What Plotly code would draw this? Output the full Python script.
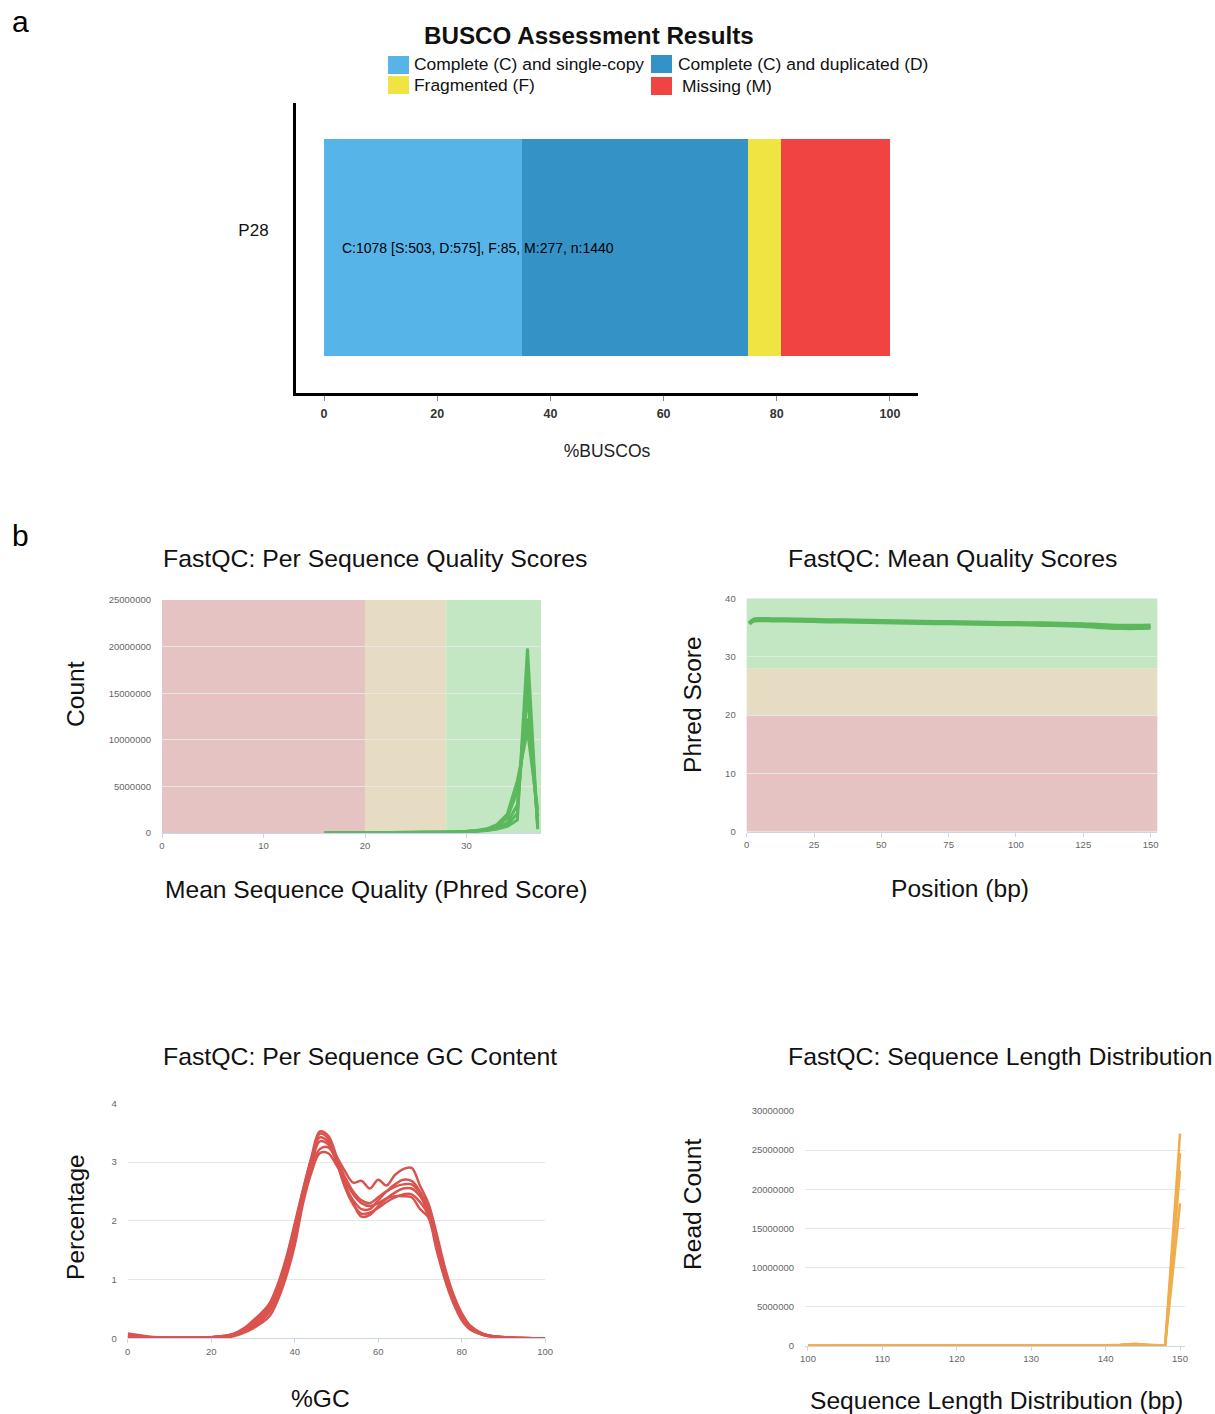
import plotly.graph_objects as go

W, H = 1215, 1414
def fx(p):
    return p / W
def fy(p):
    return 1 - p / H

FONT = "Liberation Sans, Arial, Helvetica, sans-serif"

# ---------------- Panel a: BUSCO ----------------
busco_title = "BUSCO Assessment Results"
busco_sample = "P28"
busco_labels = ["Complete (C) and single-copy", "Complete (C) and duplicated (D)",
                "Fragmented (F)", "Missing (M)"]
busco_counts = [503, 575, 85, 277]
busco_n = 1440
busco_colors = ["#56B4E9", "#3492C7", "#F0E442", "#F04442"]
busco_xticks = [0, 20, 40, 60, 80, 100]

# ---------------- Panel b: FastQC ----------------
qual_band_colors = ["#e6c3c3", "#e6dcc3", "#c3e6c3"]
qual_thresholds = [20, 28]

# Per sequence quality scores (counts per mean Phred score)
psq_x = [16, 18, 20, 22, 24, 26, 28, 29, 30, 31, 32, 33, 34, 35, 36, 37]
psq_s1 = [2000, 5000, 12000, 20000, 30000, 45000, 70000, 90000, 120000, 170000, 260000, 420000, 700000, 1400000, 19800000, 400000]
psq_s2 = [4000, 9000, 20000, 32000, 48000, 70000, 110000, 140000, 190000, 280000, 450000, 900000, 2000000, 5600000, 11000000, 2500000]
psq_s3 = [3000, 7000, 16000, 26000, 40000, 58000, 90000, 115000, 160000, 230000, 380000, 700000, 1600000, 4500000, 12300000, 1800000]
psq_s4 = [2500, 6000, 14000, 23000, 35000, 52000, 80000, 100000, 140000, 200000, 320000, 560000, 1100000, 3000000, 15000000, 1000000]
psq_s5 = [2000, 5000, 13000, 21000, 32000, 48000, 75000, 95000, 130000, 185000, 290000, 480000, 850000, 2100000, 17200000, 700000]
psq_yticks = [0, 5000000, 10000000, 15000000, 20000000, 25000000]
psq_xticks = [0, 10, 20, 30]

# Mean quality scores per position
mq_x = [1, 2, 3, 5, 7, 9, 12, 15, 20, 25, 30, 40, 50, 60, 70, 80, 90, 100, 110, 120, 125, 130, 135, 140, 145, 150]
mq_s1 = [35.8, 36.2, 36.45, 36.5, 36.5, 36.45, 36.45, 36.45, 36.4, 36.35, 36.3, 36.25, 36.15, 36.05, 36.0, 35.95, 35.85, 35.8, 35.75, 35.65, 35.6, 35.5, 35.4, 35.35, 35.35, 35.4]
mq_s2 = [35.6, 36.0, 36.15, 36.2, 36.2, 36.15, 36.15, 36.15, 36.1, 36.05, 36.0, 35.95, 35.85, 35.75, 35.7, 35.65, 35.55, 35.5, 35.4, 35.3, 35.2, 35.05, 34.9, 34.85, 34.85, 34.9]
mq_s3 = [35.7, 36.1, 36.3, 36.35, 36.35, 36.3, 36.3, 36.3, 36.25, 36.2, 36.15, 36.1, 36.0, 35.9, 35.85, 35.8, 35.7, 35.65, 35.55, 35.45, 35.4, 35.3, 35.15, 35.1, 35.1, 35.15]
mq_xticks = [0, 25, 50, 75, 100, 125, 150]
mq_yticks = [0, 10, 20, 30, 40]

# Per sequence GC content (%)
gc_x = [0, 2, 5, 10, 15, 20, 25, 28, 30, 32, 34, 36, 38, 40, 42, 44, 46, 48, 50, 52, 54, 56, 58, 60,
        62, 64, 66, 68, 70, 72, 74, 76, 78, 80, 82, 85, 88, 92, 100]
gc_s1 = [0.08, 0.06, 0.03, 0.01, 0.01, 0.02, 0.06, 0.15, 0.28, 0.42, 0.58, 0.90, 1.35, 1.92, 2.52, 3.08, 3.52, 3.45, 3.10, 2.65, 2.30, 2.07, 2.10, 2.25,
         2.38, 2.48, 2.55, 2.55, 2.42, 2.12, 1.60, 1.08, 0.65, 0.36, 0.18, 0.07, 0.03, 0.01, 0.00]
gc_s2 = [0.02, 0.02, 0.01, 0.01, 0.01, 0.02, 0.07, 0.18, 0.30, 0.43, 0.60, 0.93, 1.38, 1.95, 2.53, 3.05, 3.42, 3.35, 3.10, 2.85, 2.65, 2.68, 2.55, 2.70,
         2.60, 2.78, 2.88, 2.90, 2.60, 2.30, 1.78, 1.20, 0.75, 0.43, 0.22, 0.08, 0.03, 0.01, 0.00]
gc_s3 = [0.02, 0.01, 0.01, 0.00, 0.00, 0.01, 0.03, 0.10, 0.17, 0.26, 0.38, 0.66, 1.06, 1.58, 2.30, 2.82, 3.15, 3.15, 2.95, 2.70, 2.45, 2.30, 2.25, 2.30,
         2.38, 2.42, 2.42, 2.40, 2.20, 2.06, 1.50, 1.00, 0.60, 0.31, 0.15, 0.06, 0.02, 0.01, 0.00]
gc_s4 = [0.06, 0.05, 0.02, 0.01, 0.01, 0.02, 0.05, 0.13, 0.23, 0.35, 0.50, 0.80, 1.22, 1.78, 2.42, 2.95, 3.35, 3.30, 3.00, 2.60, 2.35, 2.20, 2.20, 2.35,
         2.50, 2.62, 2.70, 2.68, 2.50, 2.20, 1.65, 1.10, 0.68, 0.38, 0.19, 0.07, 0.03, 0.01, 0.00]
gc_s5 = [0.02, 0.02, 0.01, 0.01, 0.01, 0.02, 0.05, 0.12, 0.20, 0.30, 0.45, 0.74, 1.15, 1.70, 2.38, 2.90, 3.22, 3.25, 3.05, 2.75, 2.50, 2.35, 2.30, 2.40,
         2.50, 2.58, 2.62, 2.62, 2.48, 2.25, 1.70, 1.15, 0.72, 0.40, 0.20, 0.08, 0.03, 0.01, 0.00]
gc_s6 = [0.03, 0.02, 0.01, 0.01, 0.01, 0.02, 0.06, 0.14, 0.26, 0.40, 0.55, 0.86, 1.30, 1.88, 2.50, 3.05, 3.48, 3.40, 3.02, 2.58, 2.28, 2.12, 2.14, 2.22,
         2.32, 2.40, 2.45, 2.45, 2.32, 2.10, 1.55, 1.02, 0.62, 0.34, 0.17, 0.06, 0.02, 0.01, 0.00]
gc_xticks = [0, 20, 40, 60, 80, 100]
gc_yticks = [0, 1, 2, 3, 4]

# Sequence length distribution (read counts)
len_x = [100, 110, 120, 130, 138, 140, 142, 144, 146, 148, 150]
len_s1 = [2000, 3000, 5000, 8000, 30000, 60000, 120000, 250000, 60000, 20000, 27100000]
len_s2 = [1500, 2500, 4000, 7000, 25000, 50000, 100000, 200000, 50000, 15000, 24600000]
len_s3 = [1000, 2000, 3500, 6000, 20000, 40000, 80000, 160000, 40000, 12000, 22400000]
len_s4 = [1000, 2000, 3000, 5000, 18000, 35000, 70000, 140000, 35000, 10000, 18200000]
len_xticks = [100, 110, 120, 130, 140, 150]
len_yticks = [0, 5000000, 10000000, 15000000, 20000000, 25000000, 30000000]

GREEN = "#5cb85c"
RED = "#d9534f"
ORANGE = "#f0ad4e"

fig = go.Figure()

# ---- BUSCO stacked bar ----
for lab, cnt, col in zip(busco_labels, busco_counts, busco_colors):
    fig.add_trace(go.Bar(
        x=[100.0 * cnt / busco_n], y=[0], orientation="h", width=1,
        marker=dict(color=col, line=dict(width=0)), name=lab,
        showlegend=False, xaxis="x", yaxis="y", hoverinfo="name+x"))

# ---- FastQC traces ----
for s in [psq_s2, psq_s3, psq_s4, psq_s5, psq_s1]:
    fig.add_trace(go.Scatter(x=psq_x, y=s, mode="lines", line=dict(color=GREEN, width=3),
                             showlegend=False, xaxis="x2", yaxis="y2"))
for s in [mq_s1, mq_s2, mq_s3]:
    fig.add_trace(go.Scatter(x=mq_x, y=s, mode="lines", line=dict(color=GREEN, width=3.5, shape="spline"),
                             showlegend=False, xaxis="x3", yaxis="y3"))
for s in [gc_s1, gc_s2, gc_s3, gc_s4, gc_s5, gc_s6]:
    fig.add_trace(go.Scatter(x=gc_x, y=s, mode="lines", line=dict(color=RED, width=2.5, shape="spline"),
                             showlegend=False, xaxis="x4", yaxis="y4"))
for s in [len_s1, len_s2, len_s3, len_s4]:
    fig.add_trace(go.Scatter(x=len_x, y=s, mode="lines", line=dict(color=ORANGE, width=2.5),
                             showlegend=False, xaxis="x5", yaxis="y5"))

shapes = []
annotations = []

def note(text, x, y, size, color="#111", angle=0, xanchor="center", ref=("paper", "paper")):
    annotations.append(dict(text=text, xref=ref[0], yref=ref[1], x=x, y=y, textangle=angle,
                            xanchor=xanchor, yanchor="middle", showarrow=False,
                            font=dict(size=size, color=color, family=FONT)))

# BUSCO legend (manual)
leg_pos = [(388, 56, 412, 64), (651, 55, 676, 64), (388, 76, 412, 85), (651, 77, 680, 86)]
for (sx, sy, tx, ty), lab, col in zip(leg_pos, busco_labels, busco_colors):
    shapes.append(dict(type="rect", xref="paper", yref="paper",
                       x0=fx(sx), x1=fx(sx + 21), y0=fy(sy + 18), y1=fy(sy),
                       fillcolor=col, line=dict(width=0)))
    note(lab, fx(tx), fy(ty), 17.4, xanchor="left")

note("<b>" + busco_title + "</b>", fx(589), fy(35), 24.2)
S, D, F, M = busco_counts
note(f"C:{S + D} [S:{S}, D:{D}], F:{F}, M:{M}, n:{busco_n}", 2.8, 0, 14, color="#000",
     xanchor="left", ref=("x", "y"))

# Panel letters
note("a", fx(20), fy(22), 30, color="#000")
note("b", fx(20), fy(535), 30, color="#000")

# Subplot titles
for txt, cx, cy in [("FastQC: Per Sequence Quality Scores", 375, 559),
                    ("FastQC: Mean Quality Scores", 952, 559),
                    ("FastQC: Per Sequence GC Content", 360, 1056),
                    ("FastQC: Sequence Length Distribution", 1000, 1056)]:
    note(txt, fx(cx), fy(cy), 24.8)

# Axis titles of the FastQC panels
for txt, cx, cy, ang in [("Mean Sequence Quality (Phred Score)", 376, 889, 0),
                         ("Count", 75, 694, -90),
                         ("Position (bp)", 960, 888, 0),
                         ("Phred Score", 692, 705, -90),
                         ("%GC", 320, 1398, 0),
                         ("Percentage", 75, 1217, -90),
                         ("Sequence Length Distribution (bp)", 996, 1400, 0),
                         ("Read Count", 692, 1205, -90)]:
    note(txt, fx(cx), fy(cy), 24.6, angle=ang)

# Quality bands
psq_xmax = 37.33
edges_x = [0] + qual_thresholds + [psq_xmax]
for i, col in enumerate(qual_band_colors):
    shapes.append(dict(type="rect", xref="x2", yref="y2 domain", x0=edges_x[i], x1=edges_x[i + 1],
                       y0=0, y1=1, fillcolor=col, line=dict(width=0), layer="below"))
mq_ymax = 40
edges_y = [0] + qual_thresholds + [mq_ymax]
for i, col in enumerate(qual_band_colors):
    shapes.append(dict(type="rect", xref="x3 domain", yref="y3", x0=0, x1=1,
                       y0=edges_y[i], y1=edges_y[i + 1], fillcolor=col, line=dict(width=0), layer="below"))

small_tick = dict(size=9.5, color="#666", family=FONT)

def bx(domain, rng, ticks):
    return dict(domain=domain, range=rng, tickvals=ticks, showgrid=False, zeroline=False,
                showline=True, linecolor="#ccd6eb", linewidth=1, ticks="outside", ticklen=4,
                tickcolor="#ccd6eb", tickfont=small_tick, automargin=False, fixedrange=True)

def by(domain, rng, ticks):
    return dict(domain=domain, range=rng, tickvals=ticks, tickformat="d", showgrid=True,
                gridcolor="#e6e6e6", gridwidth=1, zeroline=False, showline=False, ticks="",
                ticklabelstandoff=10, tickfont=small_tick, automargin=False, fixedrange=True)

fig.update_layout(
    template="none",
    width=W, height=H, autosize=False,
    margin=dict(l=0, r=0, t=0, b=0, pad=0),
    paper_bgcolor="white", plot_bgcolor="white",
    font=dict(family=FONT, color="#111"),
    barmode="stack",
    bargap=0,
    showlegend=False,
    shapes=shapes,
    annotations=annotations,
    xaxis=dict(domain=[fx(296), fx(918)], range=[-4.95, 104.95], anchor="y", automargin=False,
               tickvals=busco_xticks, showgrid=False, zeroline=False,
               showline=True, linecolor="black", linewidth=3, ticks="outside", ticklen=5,
               tickcolor="#888", ticklabelstandoff=2,
               tickfont=dict(size=12.5, color="#333", family=FONT, weight="bold"),
               title=dict(text="%BUSCOs", font=dict(size=17.5, color="#222", family=FONT), standoff=25)),
    yaxis=dict(domain=[fy(393), fy(103)], range=[-0.67, 0.666], anchor="x", automargin=False,
               tickvals=[0.08], ticktext=[busco_sample], showgrid=False, zeroline=False,
               showline=True, linecolor="black", linewidth=3, ticks="", ticklabelstandoff=21,
               tickfont=dict(size=17, color="#111", family=FONT)),
    xaxis2=dict(bx([fx(162), fx(541)], [0, psq_xmax], psq_xticks), anchor="y2"),
    yaxis2=dict(by([fy(833), fy(600)], [0, 25000000], psq_yticks), anchor="x2"),
    xaxis3=dict(bx([fx(746.7), fx(1157.3)], [0, 152.5], mq_xticks), anchor="y3"),
    yaxis3=dict(by([fy(831.7), fy(598.3)], [0, mq_ymax], mq_yticks), anchor="x3"),
    xaxis4=dict(bx([fx(127.7), fx(545.2)], [0, 100], gc_xticks), anchor="y4"),
    yaxis4=dict(by([fy(1338.3), fy(1103.3)], [0, 4], gc_yticks), anchor="x4"),
    xaxis5=dict(bx([fx(805), fx(1185)], [99.6, 150.67], len_xticks), anchor="y5"),
    yaxis5=dict(by([fy(1345.7), fy(1111)], [0, 30000000], len_yticks), anchor="x5"),
)

fig.write_html("out.html", config={"displayModeBar": False},
               post_script="document.body.style.margin='0px';document.body.style.overflow='hidden';")
